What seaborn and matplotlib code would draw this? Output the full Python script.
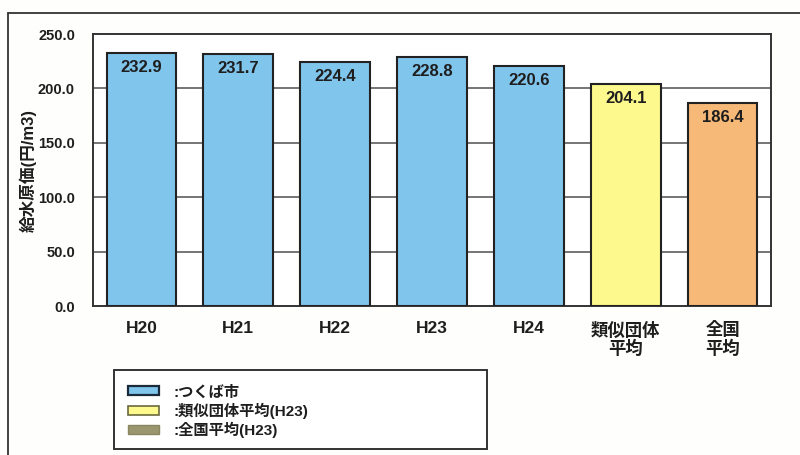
import matplotlib
matplotlib.use("Agg")
import matplotlib.pyplot as plt
import seaborn as sns
import pandas as pd
from matplotlib.patches import Patch, Rectangle
from matplotlib.lines import Line2D

# 給水原価 (円/m3)
categories = ["H20", "H21", "H22", "H23", "H24", "類似団体\n平均", "全国\n平均"]
values = [232.9, 231.7, 224.4, 228.8, 220.6, 204.1, 186.4]
groups = ["つくば市", "つくば市", "つくば市", "つくば市", "つくば市", "類似団体平均", "全国平均"]
yticks = [0, 50, 100, 150, 200, 250]

legend_labels = [":つくば市", ":類似団体平均(H23)", ":全国平均(H23)"]

sns.set_theme(style="white")
plt.rcParams["font.family"] = ["Liberation Sans", "Noto Sans CJK JP", "DejaVu Sans"]
plt.rcParams["font.weight"] = "bold"

colors = {"つくば市": "#80c5ec", "類似団体平均": "#fdf98c", "全国平均": "#f7b977"}
ink = "#1e1e1e"

df = pd.DataFrame({"category": categories, "value": values, "group": groups})

fig = plt.figure(figsize=(8, 4.55), dpi=100)
fig.patch.set_facecolor("#fefefc")
ax = fig.add_axes([93 / 800, 1 - 306 / 455, (771 - 93) / 800, (306 - 34) / 455])
ax.set_facecolor("white")

sns.barplot(data=df, x="category", y="value", hue="group", palette=colors,
            dodge=False, width=0.72, saturation=1, edgecolor="#222222",
            linewidth=1.5, legend=False, ax=ax, zorder=3)

ax.set_ylim(0, 250)
ax.set_xlim(-0.5, len(categories) - 0.5)
ax.set_yticks(yticks)
ax.set_yticklabels([f"{v:.1f}" for v in yticks], fontsize=10.5, fontweight="bold",
                   color=ink)
ax.tick_params(axis="y", length=0, pad=13)
ax.tick_params(axis="x", length=0, pad=11, labelsize=12.5, labelcolor=ink)
for lbl in ax.get_xticklabels():
    lbl.set_fontweight("bold")
    lbl.set_verticalalignment("top")
    lbl.set_linespacing(1.1)

for y in [50, 100, 150, 200]:
    ax.axhline(y, color="#505050", linewidth=1.1, zorder=1)

for sp in ax.spines.values():
    sp.set_color("#333333")
    sp.set_linewidth(1.4)

ax.set_xlabel("")
ax.set_ylabel("給水原価(円/m3)", fontsize=12, fontweight="bold", color=ink)
ax.yaxis.set_label_coords(-0.083, 0.5)

# value labels inside the top of each bar
for i, v in enumerate(values):
    ax.annotate(f"{v:.1f}", (i, v), xytext=(0, -5), textcoords="offset points",
                ha="center", va="top", fontsize=12, fontweight="bold",
                color=ink, zorder=5)

# legend box below the plot
fig.add_artist(Rectangle((114 / 800, 1 - 449 / 455), (487 - 114) / 800, (449 - 370) / 455,
                         transform=fig.transFigure, facecolor="white",
                         edgecolor="#333333", linewidth=1.4))
handles = [
    Patch(facecolor="#80c5ec", edgecolor="#1a2a3a", linewidth=1.6),
    Patch(facecolor="#fdf98c", edgecolor="#6a6a40", linewidth=1.2),
    Patch(facecolor="#9a9670", edgecolor="#8a8660", linewidth=1.0),
]
leg = fig.legend(handles, legend_labels, loc="upper left",
                 bbox_to_anchor=(128 / 800, 1 - 385 / 455), bbox_transform=fig.transFigure,
                 frameon=False, fontsize=11, handlelength=2.0, handleheight=0.55,
                 handletextpad=1.0, labelspacing=0.2, borderpad=0, borderaxespad=0)
for t in leg.get_texts():
    t.set_fontweight("bold")
    t.set_color(ink)

# outer frame lines of the figure panel
fig.add_artist(Line2D([8 / 800, 1.0], [1 - 13 / 455, 1 - 13 / 455],
                      transform=fig.transFigure, color="#333333", linewidth=1.3))
fig.add_artist(Line2D([8 / 800, 8 / 800], [0, 1 - 13 / 455],
                      transform=fig.transFigure, color="#333333", linewidth=1.3))

fig.savefig("out.png", dpi=100, facecolor=fig.get_facecolor())
